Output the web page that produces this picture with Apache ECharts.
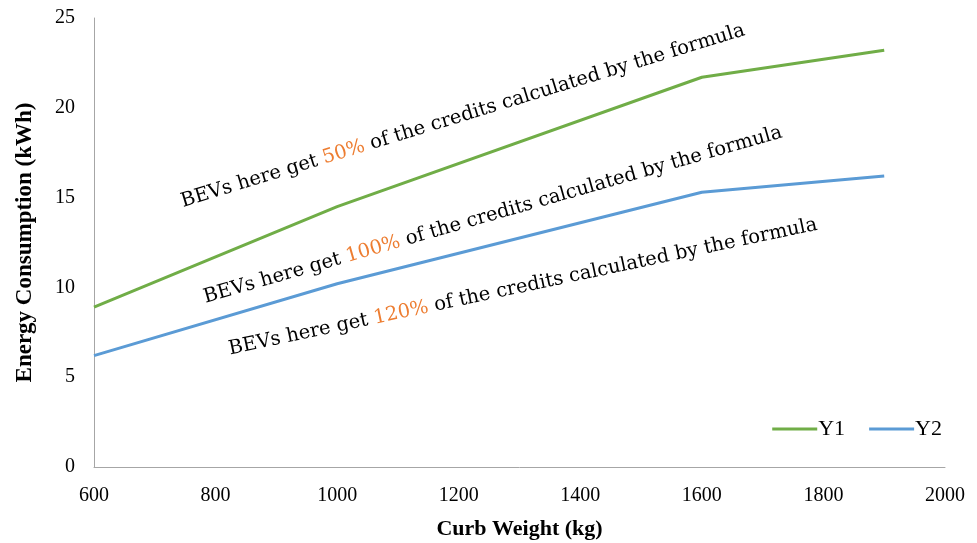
<!DOCTYPE html>
<html>
<head>
<meta charset="utf-8">
<script src="https://cdn.jsdelivr.net/npm/echarts@6/dist/echarts.min.js"></script>
<style>
  html, body { margin: 0; padding: 0; background: #fff; }
  #chart { width: 977px; height: 543px; }
</style>
</head>
<body>
<div id="chart"></div>
<script>
  const curbWeight = [600, 1000, 1600, 1900]
  const y1 = [8.9, 14.5, 21.7, 23.2]
  const y2 = [6.2, 10.2, 15.3, 16.2]
  const seriesNames = ['Y1', 'Y2']
  const shares = ['50%', '100%', '120%']
  const colors = ['#70AD47', '#5B9BD5']
  const font = '"Liberation Serif", "DejaVu Serif", serif'
  const noteFont = '"DejaVu Serif", "Liberation Serif", serif'

  // rotated notes between the lines: [x, y, degrees]
  const notePlaces = [[463, 116, 17], [493, 215, 16], [523, 287, 12]]

  const chart = echarts.init(document.getElementById('chart'))
  chart.setOption({
    animation: false,
    textStyle: { fontFamily: font },
    grid: { left: 94, right: 32, top: 18, bottom: 76, outerBoundsMode: 'none' },
    xAxis: {
      type: 'value',
      min: 600,
      max: 2000,
      interval: 200,
      name: 'Curb Weight (kg)',
      nameLocation: 'center',
      nameGap: 51,
      nameTextStyle: { fontSize: 22, fontWeight: 'bold', color: '#000', fontFamily: font },
      axisLine: { lineStyle: { color: '#a6a6a6', width: 1 } },
      axisTick: { show: false },
      axisLabel: { fontSize: 20, color: '#000', margin: 19, formatter: v => String(v) },
      splitLine: { show: false }
    },
    yAxis: {
      type: 'value',
      min: 0,
      max: 25,
      interval: 5,
      name: 'Energy Consumption (kWh)',
      nameLocation: 'center',
      nameGap: 57,
      nameTextStyle: { fontSize: 23, fontWeight: 'bold', color: '#000', fontFamily: font },
      axisLine: { show: true, lineStyle: { color: '#a6a6a6', width: 1 } },
      axisTick: { show: false },
      axisLabel: { fontSize: 20, color: '#000', margin: 19 },
      splitLine: { show: false }
    },
    legend: {
      right: 30,
      top: 413,
      itemWidth: 45,
      itemHeight: 3,
      itemGap: 24,
      icon: 'rect',
      textStyle: { fontSize: 22, color: '#000', fontFamily: font, padding: [0, 0, 0, -4] },
      data: seriesNames
    },
    series: [y1, y2].map((vals, i) => ({
      name: seriesNames[i],
      type: 'line',
      symbol: 'none',
      lineStyle: { color: colors[i], width: 3 },
      itemStyle: { color: colors[i] },
      data: curbWeight.map((x, j) => [x, vals[j]])
    })),
    graphic: shares.map((s, i) => ({
      type: 'text',
      x: notePlaces[i][0],
      y: notePlaces[i][1],
      rotation: notePlaces[i][2] * Math.PI / 180,
      style: {
        text: '{n|BEVs here get }{o|' + s + '}{n| of the credits calculated by the formula}',
        align: 'center',
        verticalAlign: 'middle',
        rich: {
          n: { fill: '#000', fontSize: 19.5, fontFamily: noteFont },
          o: { fill: '#ED7D31', fontSize: 19.5, fontFamily: noteFont }
        }
      }
    }))
  })
</script>
</body>
</html>
